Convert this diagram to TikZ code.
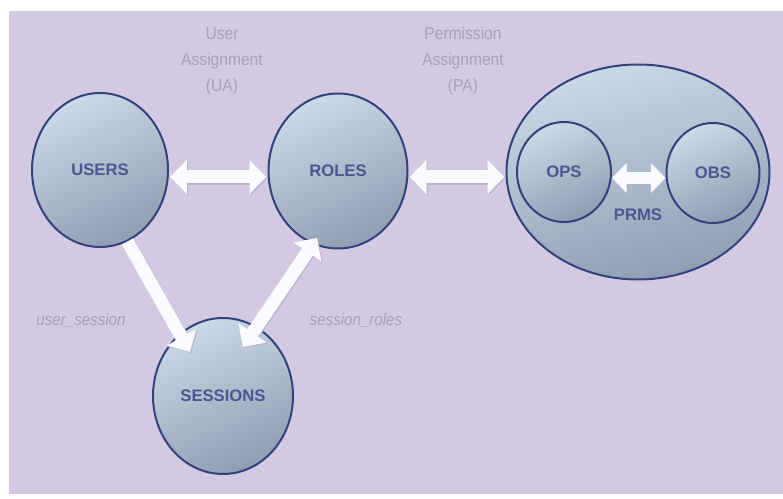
\documentclass[tikz,border=0pt]{standalone}
\usepackage{fontspec}
\setmainfont{Liberation Sans}
\newfontfamily\condfont[FakeStretch=0.9]{Liberation Sans}
\usetikzlibrary{shapes.geometric,arrows.meta}
\definecolor{panel}{HTML}{D2CAE2}
\definecolor{rim}{HTML}{34427C}
\definecolor{balllight}{HTML}{CAD9E7}
\definecolor{balldark}{HTML}{909DB2}
\definecolor{balltext}{HTML}{4A5890}
\definecolor{labgray}{HTML}{A7A1B3}
\definecolor{arrowwhite}{HTML}{FBFBFF}
\definecolor{arrowshadow}{HTML}{B8B2CA}
\tikzset{
  ball/.style={ellipse, draw=rim, line width=1.5pt, inner sep=0pt,
    top color=balllight, bottom color=balldark, shading angle=25,
    text=balltext, font=\fontsize{12.5}{14}\selectfont\bfseries},
  toplabel/.style={align=center, text=labgray, inner sep=0pt,
    font=\condfont\fontsize{13}{19.5}\selectfont},
  itlabel/.style={text=labgray, inner sep=0pt,
    font=\condfont\fontsize{12.6}{14}\selectfont\itshape},
  bigarrow/.style={draw=arrowwhite, line width=9.75pt,
    {Triangle[length=12.75pt,width=24.75pt]}-{Triangle[length=12.75pt,width=24.75pt]},
    preaction={draw=arrowshadow, line width=9.75pt, transform canvas={shift={(0.8pt,-0.8pt)}},
      {Triangle[length=12.75pt,width=24.75pt]}-{Triangle[length=12.75pt,width=24.75pt]}}},
  onearrow/.style={draw=arrowwhite, line width=9.75pt,
    -{Triangle[length=12.75pt,width=24.75pt]},
    preaction={draw=arrowshadow, line width=9.75pt, transform canvas={shift={(0.8pt,-0.8pt)}},
      -{Triangle[length=12.75pt,width=24.75pt]}}},
  smallarrow/.style={draw=arrowwhite, line width=9pt,
    {Triangle[length=11pt,width=22pt]}-{Triangle[length=11pt,width=22pt]}}
}
\begin{document}
\begin{tikzpicture}[x=0.75pt,y=-0.75pt]
\useasboundingbox (0,0) rectangle (783,499);
\fill[white] (0,0) rectangle (783,499);
\fill[panel] (9,11) rectangle (783,494);

% nodes
\node[ball, minimum width=136*0.75pt, minimum height=154*0.75pt] (users) at (100,170) {USERS};
\node[ball, minimum width=139*0.75pt, minimum height=155*0.75pt] (roles) at (338,171) {ROLES};
\node[ball, minimum width=140*0.75pt, minimum height=156*0.75pt] (sessions) at (223,396) {SESSIONS};
\node[ball, minimum width=263*0.75pt, minimum height=215*0.75pt, shading angle=15] (prmsset) at (638,172) {};
\node[ball, minimum width=94*0.75pt, minimum height=100*0.75pt] (ops) at (564,172) {OPS};
\node[ball, minimum width=93*0.75pt, minimum height=100*0.75pt] (obs) at (713,173) {OBS};
\node[text=balltext, font=\fontsize{12.5}{14}\selectfont\bfseries, inner sep=0pt] (prms) at (638,215) {PRMS};

% labels
\node[toplabel] (ua) at (222,61) {User\\Assignment\\(UA)};
\node[toplabel] (pa) at (463,61) {Permission\\Assignment\\(PA)};
\node[itlabel] (us) at (81,320) {user\_session};
\node[itlabel] (sr) at (356,320) {session\_roles};

% connectors
\draw[bigarrow] ([shift={(1,7)}]users.east) -- ([shift={(-1,6)}]roles.west);
\draw[bigarrow] ([shift={(1,6)}]roles.east) -- ([shift={(-1,5)}]prmsset.west);
\draw[smallarrow] ([shift={(0,6)}]ops.east) -- ([shift={(0,5)}]obs.west);
\draw[onearrow] (users.-69) -- ([shift={(-33,-44)}]sessions.center);
\draw[bigarrow] ([shift={(-21,67)}]roles.center) -- ([shift={(20,-49)}]sessions.center);
\end{tikzpicture}
\end{document}
